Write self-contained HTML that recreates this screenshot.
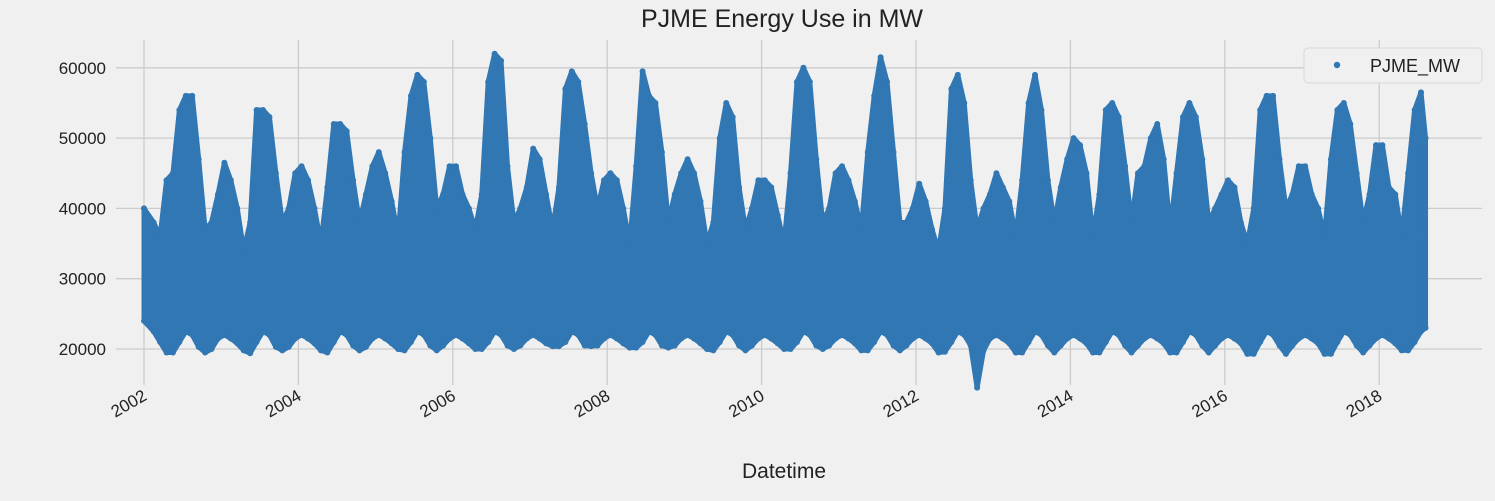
<!DOCTYPE html>
<html><head><meta charset="utf-8"><style>
body{margin:0;background:#f0f0f0;font-family:"Liberation Sans",sans-serif;}
svg text{font-family:"Liberation Sans",sans-serif;fill:#222;}
</style></head><body>
<svg id="chart" width="1495" height="496" xmlns="http://www.w3.org/2000/svg">
<rect width="1495" height="496" fill="#f0f0f0"/>
<text x="782" y="27" font-size="25" text-anchor="middle">PJME Energy Use in MW</text>
<g id="grid"></g><g id="marks"></g><g id="axes"></g>
<text x="784" y="478" font-size="21" text-anchor="middle">Datetime</text>
<g>
<rect x="1304" y="48" width="178" height="35" rx="4" fill="#f0f0f0" stroke="#d8d8d8"/>
<circle cx="1337" cy="65" r="3.2" fill="#3077b4"/>
<text x="1370" y="72" font-size="18">PJME_MW</text>
</g>
</svg>
<script>
const years=[2002,2003,2004,2005,2006,2007,2008,2009,2010,2011,2012,2013,2014,2015,2016,2017,2018];
const monthlyMax=[
[40,38,36,44,45,54,56,56,47,37,38,42],
[46.5,44,40,34,38,54,54,53,45,38,40,45],
[46,44,40,35,43,52,52,51,44,38,42,46],
[48,45,41,36,48,56,59,58,50,40,42,46],
[46,42,40,37,42,58,62,61,46,38,40,43],
[48.5,47,42,37,43,57,59.5,58,52,45,40,44],
[45,44,40,35,46,59.5,56,55,48,38,42,45],
[47,45,41,35,38,50,55,53,43,37,40,44],
[44,43,39,35,45,58,60,58,47,38,40,45],
[46,44,41,37,48,56,61.5,58,48,38,38,40],
[43.5,41,37,34,40,57,59,55,44,37,40,42],
[45,43,41,36,44,55,59,54,44,38,43,47],
[50,49,45,36,42,54,55,53,46,38,45,46],
[50,52,47,37,45,53,55,53,47,38,40,42],
[44,43,38,35,40,54,56,56,47,40,42,46],
[46,42,40,36,47,54,55,52,45,38,42,49],
[49,43,42,36,45,54,56.5,50]];
const monthlyMin=[
[24,22.5,21,19.5,19.5,21,22.5,22,20.3,19.5,20,21.5],
[22,21.5,20.8,19.8,19.4,21,22.5,22,20.3,19.8,20.3,21.5],
[22,21.5,20.8,19.8,19.5,21,22.5,22,20.5,19.8,20.3,21.5],
[22,21.5,20.8,20,19.8,21,22.5,22,20.5,19.8,20.5,21.5],
[22,21.5,20.8,20,20,21,22.5,22,20.5,20,20.5,21.5],
[22,21.5,20.8,20.4,20.4,21,22.5,22,20.5,20.4,20.5,21.5],
[22,21.5,20.8,20.2,20.2,21,22.5,22,20.5,20.2,20.5,21.5],
[22,21.5,20.8,20,19.8,21,22.5,22,20.5,19.8,20.5,21.5],
[22,21.5,20.8,20,20,21,22.5,22,20.5,20,20.5,21.5],
[22,21.5,20.8,19.8,19.8,21,22.5,22,20.5,19.8,20.5,21.5],
[22,21.5,20.8,19.5,19.6,21,22.5,22,20.5,14.5,19.8,21.5],
[22,21.5,20.8,19.5,19.5,21,22.5,22,20.5,19.5,20.5,21.5],
[22,21.5,20.8,19.5,19.5,21,22.5,22,20.5,19.5,20.5,21.5],
[22,21.5,20.8,19.5,19.5,21,22.5,22,20.5,19.5,20.5,21.5],
[22,21.5,20.8,19.3,19.3,21,22.5,22,20.5,19.3,20.5,21.5],
[22,21.5,20.8,19.3,19.3,21,22.5,22,20.5,19.5,20.5,21.5],
[22,21.5,20.8,19.8,19.8,21,22.5,23]];
const yTicks=[20000,30000,40000,50000,60000];
const xTicks=[2002,2004,2006,2008,2010,2012,2014,2016,2018];
const L=116,R=1482,T=40,B=385;
const xs=t=>144+(t-2002)*77.2;
const ys=v=>349-(v-20000)*0.00703;
const NS="http://www.w3.org/2000/svg";
function mk(tag,attrs,parent){const e=document.createElementNS(NS,tag);for(const k in attrs)e.setAttribute(k,attrs[k]);parent.appendChild(e);return e;}
const gridG=document.getElementById('grid'),axesG=document.getElementById('axes'),marksG=document.getElementById('marks');
yTicks.forEach(v=>{
 const l=mk('line',{x1:L,x2:R,y1:ys(v),y2:ys(v),stroke:'#cbcbcb','stroke-width':1.3},gridG);
 
 
 const t=mk('text',{x:106,y:ys(v)+6,'font-size':17,'text-anchor':'end'},axesG);t.textContent=v;
 
 
});
xTicks.forEach(y=>{
 const x=xs(y);
 const l=mk('line',{x1:x,x2:x,y1:T,y2:B,stroke:'#cbcbcb','stroke-width':1.3},gridG);
 
 
 const t=mk('text',{x:x+4,y:B+14,'font-size':17,'text-anchor':'end',transform:`rotate(-30 ${x+4} ${B+14})`},axesG);t.textContent=y;
 
 
});
const topPts=[],botPts=[];
years.forEach((y,i)=>{monthlyMax[i].forEach((v,m)=>{
 const t=y+(m+0.5)/12;
 topPts.push([xs(t),ys(v*1000)]);botPts.push([xs(t),ys(monthlyMin[i][m]*1000)]);
});});
topPts[0][0]=xs(2002);botPts[0][0]=xs(2002);
const nPts=topPts.length;topPts[nPts-1][0]=xs(2018.6);botPts[nPts-1][0]=xs(2018.6);
const polyPts=topPts.map(p=>p.join(',')).concat(botPts.slice().reverse().map(p=>p.join(','))).join(' ');
const poly=mk('polygon',{points:polyPts,fill:'#3077b4',stroke:'#3077b4','stroke-width':5,'stroke-linejoin':'round'},marksG);


topPts.forEach(p=>{const c=mk('circle',{cx:p[0],cy:p[1],r:3,fill:'#3077b4'},marksG);
 
 });
botPts.forEach(p=>{const c=mk('circle',{cx:p[0],cy:p[1],r:3,fill:'#3077b4'},marksG);
 
 });
</script>
</body></html>
